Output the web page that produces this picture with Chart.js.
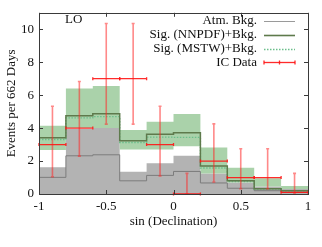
<!DOCTYPE html>
<html><head><meta charset="utf-8">
<script src="https://cdn.jsdelivr.net/npm/chart.js@4"></script>
<style>html,body{margin:0;padding:0;background:#fff}#wrap{width:322px;height:247px}</style>
</head><body><div id="wrap"><canvas id="c" width="322" height="247"></canvas></div>
<script>
const binEdges = [-1, -0.8, -0.6, -0.4, -0.2, 0, 0.2, 0.4, 0.6, 0.8, 1];
const binCenters = [-0.9, -0.7, -0.5, -0.3, -0.1, 0.1, 0.3, 0.5, 0.7, 0.9];
const atmBandTop = [1.62, 3.95, 4.0, 1.35, 1.86, 2.32, 1.25, 0.7, 0.45, 0.3];
const atmLine = [1.01, 2.32, 2.38, 0.8, 1.13, 1.37, 0.67, 0.35, 0.2, 0.1];
const sigBandTop = [4.14, 6.4, 6.56, 3.88, 4.38, 4.85, 2.83, 1.6, 0.95, 0.48];
const sigBandBottom = [2.67, 4.0, 4.0, 2.7, 2.7, 2.9, 1.25, 0.7, 0.45, 0.3];
const nnpdf = [3.41, 4.75, 4.87, 3.23, 3.62, 3.72, 1.7, 0.8, 0.32, 0.2];
const mstw = [3.31, 4.62, 4.7, 3.13, 3.45, 3.44, 1.58, 0.76, 0.3, 0.18];
const icData = [3, 4, 7, 7, 3, 0, 2, 1, 1, 0.1];
const icLow = [1.05, 2.3, 4.24, 4.24, 1.09, 0, 0.73, 0.32, 0.32, 0];
const icHigh = [5.33, 6.83, 10.35, 10.35, 5.33, 1.25, 4.26, 2.75, 2.75, 1.25];
const xTicks = [-1, -0.5, 0, 0.5, 1];
const yTicks = [0, 2, 4, 6, 8, 10];
const legendLabels = ['Atm. Bkg.', 'Sig. (NNPDF)+Bkg.', 'Sig. (MSTW)+Bkg.', 'IC Data'];

const FONT = "'Liberation Serif', 'DejaVu Serif', serif";
function steps(vals) {
  const pts = vals.map((v, i) => ({x: binEdges[i], y: v}));
  pts.push({x: binEdges[binEdges.length - 1], y: vals[vals.length - 1]});
  return pts;
}
const C = {
  gray: '#b3b3b3', grayLine: '#7c7c7c', green: '#aad2aa', nn: '#5e7a4c', ms: '#6cbf8c', red: '#ff2020'
};

const framePlugin = {
  id: 'frame',
  afterDatasetsDraw(chart) {
    const {ctx, chartArea: a, scales: {x, y}} = chart;
    ctx.save();
    for (let i = 0; i < icData.length; i++) {
      const cx = x.getPixelForValue(binCenters[i]);
      const yl = y.getPixelForValue(icLow[i]);
      const yh = y.getPixelForValue(icHigh[i]);
      const yc = y.getPixelForValue(icData[i]);
      const xl = x.getPixelForValue(binEdges[i]);
      const xr = x.getPixelForValue(binEdges[i + 1]);
      ctx.strokeStyle = 'rgba(255,40,40,0.55)';
      ctx.lineWidth = 1.6;
      ctx.beginPath();
      ctx.moveTo(cx, yl); ctx.lineTo(cx, yh);
      ctx.moveTo(cx - 1.5, yh); ctx.lineTo(cx + 1.5, yh);
      ctx.moveTo(cx - 1.5, yl); ctx.lineTo(cx + 1.5, yl);
      ctx.stroke();
      ctx.strokeStyle = 'rgba(255,20,20,0.9)';
      ctx.lineWidth = 1.3;
      ctx.beginPath();
      ctx.moveTo(xl, yc); ctx.lineTo(xr, yc);
      ctx.moveTo(xl, yc - 1.5); ctx.lineTo(xl, yc + 1.5);
      ctx.moveTo(xr, yc - 1.5); ctx.lineTo(xr, yc + 1.5);
      ctx.stroke();
    }
    ctx.strokeStyle = '#3a3a3a';
    ctx.lineWidth = 1;
    ctx.strokeRect(Math.round(a.left) + 0.5, Math.round(a.top) + 0.5, Math.round(a.right - a.left), Math.round(a.bottom - a.top));
    ctx.beginPath();
    const tl = 4;
    yTicks.forEach(v => {
      const py = Math.round(y.getPixelForValue(v)) + 0.5;
      ctx.moveTo(a.left, py); ctx.lineTo(a.left + tl, py);
      ctx.moveTo(a.right, py); ctx.lineTo(a.right - tl, py);
    });
    xTicks.forEach(v => {
      const px = Math.round(x.getPixelForValue(v)) + 0.5;
      ctx.moveTo(px, a.bottom); ctx.lineTo(px, a.bottom - tl);
      ctx.moveTo(px, a.top); ctx.lineTo(px, a.top + tl);
    });
    ctx.stroke();
    ctx.fillStyle = '#111';
    ctx.font = '13px ' + FONT;
    ctx.textBaseline = 'middle';
    ctx.textAlign = 'left';
    ctx.fillText('LO', 65, 20);
    const rows = [21, 34.8, 48.6, 62.4];
    const lx0 = 264, lx1 = 295;
    legendLabels.forEach((t, i) => {
      ctx.fillStyle = '#111';
      ctx.textAlign = 'right';
      ctx.fillText(t, 257, rows[i]);
      const ry = Math.round(rows[i]) + 0.5;
      ctx.beginPath();
      ctx.setLineDash([]);
      if (i === 0) { ctx.strokeStyle = '#9a9a9a'; ctx.lineWidth = 1; }
      if (i === 1) { ctx.strokeStyle = C.nn; ctx.lineWidth = 1.6; }
      if (i === 2) { ctx.strokeStyle = C.ms; ctx.lineWidth = 1.4; ctx.setLineDash([1.5, 1.5]); }
      if (i === 3) { ctx.strokeStyle = 'rgba(255,20,20,0.9)'; ctx.lineWidth = 1.3; }
      ctx.moveTo(lx0, ry); ctx.lineTo(lx1, ry);
      ctx.stroke();
      ctx.setLineDash([]);
      if (i === 3) {
        ctx.beginPath();
        [lx0, (lx0 + lx1) / 2, lx1].forEach(px => { ctx.moveTo(px, ry - 2); ctx.lineTo(px, ry + 2); });
        ctx.stroke();
      }
    });
    ctx.restore();
  }
};

const ds = (label, vals, o) => Object.assign({
  label, data: steps(vals), stepped: 'before', pointRadius: 0, borderWidth: 1, fill: false, tension: 0
}, o);

new Chart(document.getElementById('c'), {
  type: 'line',
  data: {
    datasets: [
      ds('Sig band top', sigBandTop, {borderWidth: 0, borderColor: 'rgba(0,0,0,0)', backgroundColor: C.green, fill: '+1', order: 5}),
      ds('Sig band bottom', sigBandBottom, {borderWidth: 0, borderColor: 'rgba(0,0,0,0)', order: 5}),
      ds('Atm band', atmBandTop, {borderWidth: 0, borderColor: 'rgba(0,0,0,0)', backgroundColor: C.gray, fill: 'origin', order: 6}),
      ds('Atm. Bkg.', atmLine, {borderColor: C.grayLine, borderWidth: 1, order: 4}),
      ds('Sig. (MSTW)+Bkg.', mstw, {borderColor: C.ms, borderWidth: 1.4, borderDash: [1.5, 1.5], order: 3}),
      ds('Sig. (NNPDF)+Bkg.', nnpdf, {borderColor: C.nn, borderWidth: 1.5, order: 2})
    ]
  },
  options: {
    responsive: false,
    animation: false,
    devicePixelRatio: 1,
    layout: {padding: {top: 12, right: 14, left: 0, bottom: 0}},
    plugins: {legend: {display: false}, tooltip: {enabled: false}},
    scales: {
      x: {
        type: 'linear', min: -1, max: 1,
        afterBuildTicks: s => { s.ticks = xTicks.map(v => ({value: v})); },
        afterFit: s => { s.height = 53; },
        grid: {display: false, drawTicks: false},
        border: {display: false},
        ticks: {padding: 5, color: '#111', font: {family: FONT, size: 13}, maxRotation: 0, callback: v => String(v)},
        title: {display: true, text: 'sin (Declination)', color: '#111', font: {family: FONT, size: 13}, padding: {top: 0, bottom: 18}}
      },
      y: {
        type: 'linear', min: 0, max: 11,
        afterBuildTicks: s => { s.ticks = yTicks.map(v => ({value: v})); },
        afterFit: s => { s.width = 39; },
        grid: {display: false, drawTicks: false},
        border: {display: false},
        ticks: {padding: 5, color: '#111', font: {family: FONT, size: 13}, callback: v => String(v)},
        title: {display: true, text: 'Events per 662 Days', color: '#111', font: {family: FONT, size: 13}, padding: {top: 4, bottom: 0}}
      }
    }
  },
  plugins: [framePlugin]
});
</script></body></html>
